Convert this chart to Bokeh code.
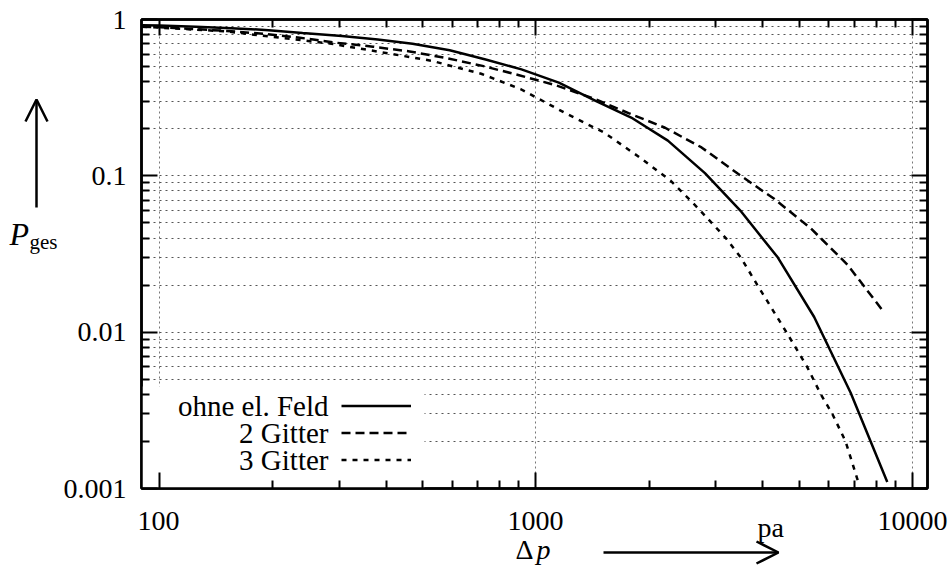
import math
from bokeh.plotting import figure
from bokeh.layouts import row, column
from bokeh.models import (Range1d, LogAxis, Label, Arrow, OpenHead, BoxAnnotation,
                          FixedTicker, Legend, LegendItem)
from bokeh.core.properties import value
from bokeh.embed import file_html
from bokeh.resources import INLINE

# ---- data ----
x_ohne = [90, 100, 125, 155, 195, 240, 305, 380, 470, 590, 735, 915, 1150, 1440,
          1790, 2240, 2810, 3510, 4390, 5480, 6850, 8570]
y_ohne = [0.92, 0.915, 0.90, 0.88, 0.855, 0.82, 0.785, 0.745, 0.70, 0.635, 0.555,
          0.48, 0.395, 0.302, 0.236, 0.168, 0.104, 0.059, 0.030, 0.0125, 0.0041, 0.0011]

x_2g = [90, 97, 121, 151, 189, 236, 295, 369, 462, 577, 721, 902, 1127, 1409,
        1761, 2202, 2752, 3440, 4300, 5376, 6720, 8400]
y_2g = [0.90, 0.895, 0.87, 0.845, 0.81, 0.765, 0.71, 0.67, 0.625, 0.567, 0.505,
        0.44, 0.38, 0.315, 0.252, 0.203, 0.152, 0.103, 0.071, 0.046, 0.027, 0.0134]

x_3g = [90, 150, 286, 527, 715, 912, 1189, 1517, 1862, 2280, 2683, 3192, 3500,
        3873, 4625, 5250, 5709, 6125, 6642, 7203]
y_3g = [0.90, 0.84, 0.70, 0.545, 0.45, 0.358, 0.254, 0.189, 0.134, 0.093, 0.0627,
        0.04, 0.03, 0.02, 0.01, 0.006, 0.004, 0.003, 0.002, 0.00107]

x_major = [100, 1000, 10000]
x_minor = [200, 300, 400, 500, 600, 700, 800, 900,
           2000, 3000, 4000, 5000, 6000, 7000, 8000, 9000]
y_major = [0.001, 0.01, 0.1, 1]
y_minor = [0.002, 0.003, 0.004, 0.005, 0.006, 0.007, 0.008, 0.009,
           0.02, 0.03, 0.04, 0.05, 0.06, 0.07, 0.08, 0.09,
           0.2, 0.3, 0.4, 0.5, 0.6, 0.7, 0.8, 0.9]
x_labels = {100: "100", 1000: "1000", 10000: "10000"}
y_labels = {0.001: "0.001", 0.01: "0.01", 0.1: "0.1", 1: "1"}
legend_names = ["ohne el. Feld", "2 Gitter", "3 Gitter"]
x_title, x_unit = ("Δ", "p"), "pa"
y_title = ("P", "ges")

X_RANGE = (89.6, 10960)
Y_RANGE = (0.001, 1)

FONT = "Liberation Serif"

# ---- layout geometry (pixels on the page) ----
W, H = 952, 571
L_W = 60            # strip left of the y tick labels
M_H = 504           # height of the row holding the main plot
FR_L, FR_R, FR_T, FR_B = 140, 927, 19, 488   # frame edges
B_H = H - M_H
L_SHIFT = 12        # observed offset of the left strip's origin


def blank(width, height, **kw):
    f = figure(width=width, height=height, min_border=0, output_backend="svg",
               toolbar_location=None, x_axis_location=None, y_axis_location=None,
               outline_line_color=None, **kw)
    f.grid.visible = False
    f.background_fill_color = "white"
    f.border_fill_color = "white"
    return f


def text_label(fig, x, y, text, size, italic=False, align="left"):
    fig.add_layout(Label(x=x, y=y, x_units="screen", y_units="screen", text=text,
                         text_font=FONT, text_font_size=size,
                         text_font_style="italic" if italic else "normal",
                         text_align=align, text_baseline="middle",
                         text_color="black"))


# ---- main plot ----
p = figure(width=W - L_W, height=M_H, x_axis_type="log", y_axis_type="log",
           x_range=Range1d(*X_RANGE), y_range=Range1d(*Y_RANGE),
           output_backend="svg", toolbar_location=None,
           min_border_left=FR_L - L_W, min_border_right=W - FR_R,
           min_border_top=FR_T, min_border_bottom=M_H - FR_B)
p.outline_line_color = "black"
p.outline_line_width = 2.5


def style_axis(ax, show_labels):
    ax.axis_line_color = "black"
    ax.axis_line_width = 2.5
    ax.major_tick_in = 16
    ax.major_tick_out = 0
    ax.minor_tick_in = 8
    ax.minor_tick_out = 0
    ax.major_tick_line_width = 2
    ax.minor_tick_line_width = 2
    ax.major_tick_line_color = "black"
    ax.minor_tick_line_color = "black"
    if show_labels:
        ax.major_label_text_font = FONT
        ax.major_label_text_font_size = "28px"
        ax.major_label_text_color = "black"
        ax.major_label_standoff = 15
    else:
        ax.major_label_text_font_size = "1px"
        ax.major_label_text_color = None
        ax.major_label_standoff = 0


xt = FixedTicker(ticks=x_major, minor_ticks=x_minor)
yt = FixedTicker(ticks=y_major, minor_ticks=y_minor)
p.xaxis.ticker = xt
p.yaxis.ticker = yt
p.yaxis.major_label_overrides = y_labels
style_axis(p.xaxis[0], False)
style_axis(p.yaxis[0], True)

top_ax = LogAxis(ticker=xt)
right_ax = LogAxis(ticker=yt)
style_axis(top_ax, False)
style_axis(right_ax, False)
p.add_layout(top_ax, "above")
p.add_layout(right_ax, "right")

p.xgrid.ticker = xt
p.ygrid.ticker = yt
p.xgrid.grid_line_color = "#777777"
p.xgrid.grid_line_dash = "2 3"
p.xgrid.grid_line_width = 1
p.ygrid.grid_line_color = "#555555"
p.ygrid.grid_line_dash = "2 4"
p.ygrid.grid_line_width = 1
p.ygrid.minor_grid_line_color = "#555555"
p.ygrid.minor_grid_line_dash = "2 4"
p.ygrid.minor_grid_line_width = 1

# white area behind the key
p.add_layout(BoxAnnotation(left=0, right=283, bottom=0, top=102,
                           left_units="screen", right_units="screen",
                           bottom_units="screen", top_units="screen",
                           fill_color="white", fill_alpha=1, line_color=None,
                           level="underlay"))

r1 = p.line(x_ohne, y_ohne, line_color="black", line_width=2.5)
r2 = p.line(x_2g, y_2g, line_color="black", line_width=2.5, line_dash="9 5")
r3 = p.line(x_3g, y_3g, line_color="black", line_width=2.5, line_dash="5 6")

legend = Legend(items=[LegendItem(label=" ", renderers=[r]) for r in (r1, r2, r3)],
                location=(200, 15), glyph_width=70, glyph_height=27, spacing=0,
                padding=0, margin=0, label_width=0, label_standoff=0,
                label_text_font_size="10px", border_line_color=None,
                background_fill_alpha=0)
p.add_layout(legend, "center")

for name, yy in zip(legend_names, [83, 56, 29]):
    text_label(p, 187, yy, name, "29px", align="right")

# ---- strip left of the plot: y title with arrow ----
left = blank(L_W, M_H, x_range=Range1d(0, 1), y_range=Range1d(0, 1))
text_label(left, 9, M_H - 237 - L_SHIFT, y_title[0], "32px", italic=True)
text_label(left, 29, M_H - 245 - L_SHIFT, y_title[1], "21px")
left.add_layout(Arrow(x_start=36, y_start=M_H - 211 - L_SHIFT, x_end=36,
                      y_end=M_H - 103 - L_SHIFT,
                      start_units="screen", end_units="screen", line_width=2.5,
                      line_color="black",
                      end=OpenHead(size=22, line_width=2.5, line_color="black")))

# ---- strip below the plot: x tick labels and x title ----
k = (math.log10(X_RANGE[1]) - math.log10(X_RANGE[0])) / (FR_R - FR_L)
b_start = 10 ** (math.log10(X_RANGE[0]) - FR_L * k)
b_end = 10 ** (math.log10(X_RANGE[1]) + (W - FR_R) * k)
bottom = blank(W, B_H, x_axis_type="log", x_range=Range1d(b_start, b_end),
               y_range=Range1d(0, B_H))
bottom.text(x=x_major, y=[H - 520] * len(x_major), text=[x_labels[v] for v in x_major],
            text_align="center", text_baseline="middle",
            text_font=value(FONT), text_font_size=value("28px"), text_color="black")
text_label(bottom, 515, H - 549, x_title[0], "28px")
text_label(bottom, 536, H - 549, x_title[1], "28px", italic=True)
bottom.add_layout(Arrow(x_start=603, y_start=H - 552, x_end=778, y_end=H - 552,
                        start_units="screen", end_units="screen", line_width=2.5,
                        line_color="black",
                        end=OpenHead(size=22, line_width=2.5, line_color="black")))
text_label(bottom, 757, H - 527, x_unit, "28px")

layout = column(row(left, p, spacing=0), bottom, spacing=0)
open("out.html", "w").write(file_html(layout, INLINE))
